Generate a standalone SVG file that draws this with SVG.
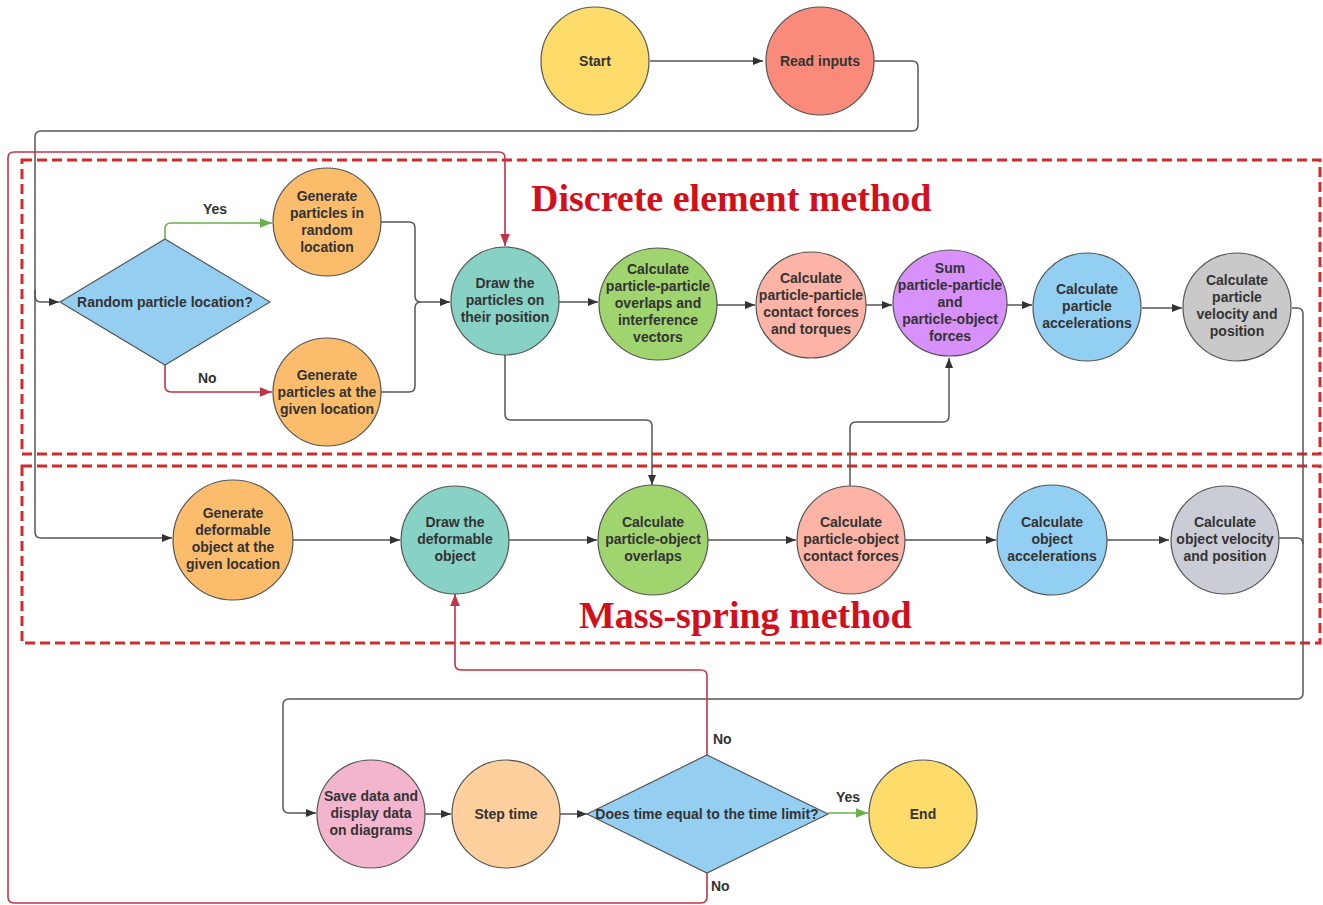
<svg xmlns="http://www.w3.org/2000/svg" width="1323" height="905" viewBox="0 0 1323 905">
<defs>
<style>
.n{stroke:#555;stroke-width:1.2}
.t{font-family:"Liberation Sans",Arial,sans-serif;font-weight:bold;font-size:14px;fill:#333;text-anchor:middle}
.lb{font-family:"Liberation Sans",Arial,sans-serif;font-weight:bold;font-size:14px;fill:#333}
.c{fill:none;stroke:#555;stroke-width:1.5}
.cr{fill:none;stroke:#c0354a;stroke-width:1.6}
.cg{fill:none;stroke:#6ab04c;stroke-width:1.6}
.box{fill:none;stroke:#d42a2a;stroke-width:3;stroke-dasharray:10 5}
.title{font-family:"Liberation Serif","Times New Roman",serif;font-weight:bold;font-size:38px;fill:#d40f1c}
</style>
<marker id="a" viewBox="0 0 10 10" refX="10" refY="5" markerWidth="10" markerHeight="10" markerUnits="userSpaceOnUse" orient="auto"><path d="M0,1 L10,5 L0,9 z" fill="#333"/></marker>
<marker id="ar" viewBox="0 0 10 10" refX="10" refY="5" markerWidth="12" markerHeight="12" markerUnits="userSpaceOnUse" orient="auto"><path d="M0,1 L10,5 L0,9 z" fill="#c0354a"/></marker>
<marker id="ag" viewBox="0 0 10 10" refX="10" refY="5" markerWidth="12" markerHeight="12" markerUnits="userSpaceOnUse" orient="auto"><path d="M0,1 L10,5 L0,9 z" fill="#6ab04c"/></marker>
</defs>
<rect width="1323" height="905" fill="#fff"/>

<g id="regions">
<rect class="box" x="22" y="160" width="1298" height="294"/>
<rect class="box" x="22" y="466" width="1298" height="177"/>
<text class="title" x="531" y="211">Discrete element method</text>
<text class="title" x="579" y="628">Mass-spring method</text>
</g>

<g id="connectors">
<path class="c" d="M650,61 H763" marker-end="url(#a)"/>
<path class="c" d="M874,61 H912 Q918,61 918,67 V125 Q918,131 912,131 H41 Q35,131 35,137 V296 Q35,302 41,302 H59" marker-end="url(#a)"/>
<path class="c" d="M35,290 V532 Q35,538 41,538 H172" marker-end="url(#a)"/>
<path class="cg" d="M165,239 V229 Q165,223 171,223 H272" marker-end="url(#ag)"/>
<path class="cr" d="M165,365 V386 Q165,392 171,392 H272" marker-end="url(#ar)"/>
<path class="c" d="M381,222 H409 Q415,222 415,228 V296 Q415,302 421,302 H450" marker-end="url(#a)"/>
<path class="c" d="M381,392 H409 Q415,392 415,386 V308 Q415,302 421,302"/>
<path class="c" d="M559,302 H598" marker-end="url(#a)"/>
<path class="c" d="M717,305 H755" marker-end="url(#a)"/>
<path class="c" d="M866,305 H892" marker-end="url(#a)"/>
<path class="c" d="M1007,305 H1032" marker-end="url(#a)"/>
<path class="c" d="M1142,308 H1182" marker-end="url(#a)"/>
<path class="c" d="M1292,308 H1297 Q1303,308 1303,314 V693 Q1303,699 1297,699 H289 Q283,699 283,705 V807 Q283,813 289,813 H316" marker-end="url(#a)"/>
<path class="c" d="M1279,538 H1297 Q1303,538 1303,544"/>
<path class="c" d="M505,355 V414 Q505,420 511,420 H646 Q652,420 652,426 V485" marker-end="url(#a)"/>
<path class="c" d="M850,486 V428 Q850,422 856,422 H943 Q949,422 949,416 V358" marker-end="url(#a)"/>
<path class="c" d="M293,540 H400" marker-end="url(#a)"/>
<path class="c" d="M509,540 H597" marker-end="url(#a)"/>
<path class="c" d="M708,540 H796" marker-end="url(#a)"/>
<path class="c" d="M905,540 H996" marker-end="url(#a)"/>
<path class="c" d="M1107,540 H1169" marker-end="url(#a)"/>
<path class="c" d="M425,814 H451" marker-end="url(#a)"/>
<path class="c" d="M560,814 H587" marker-end="url(#a)"/>
<path class="cg" d="M828,813 H868" marker-end="url(#ag)"/>
<path class="cr" d="M707,755 V676 Q707,670 701,670 H461 Q455,670 455,664 V594" marker-end="url(#ar)"/>
<path class="cr" d="M707,873 V897 Q707,903 701,903 H14 Q8,903 8,897 V158 Q8,152 14,152 H499 Q505,152 505,158 V246" marker-end="url(#ar)"/>
<text class="lb" x="203" y="214">Yes</text>
<text class="lb" x="198" y="383">No</text>
<text class="lb" x="713" y="744">No</text>
<text class="lb" x="836" y="802">Yes</text>
<text class="lb" x="711" y="891">No</text>
</g>

<g id="start"><circle class="n" cx="595" cy="61" r="54" fill="#fddc6c"/><text class="t" x="595" y="66">Start</text></g>
<g id="read-inputs"><circle class="n" cx="820" cy="61" r="54" fill="#fa8a7a"/><text class="t" x="820" y="66">Read inputs</text></g>

<g id="random-decision"><path class="n" d="M165,239 L270,302 L165,365 L60,302 Z" fill="#94cff2"/><text class="t" x="165" y="307">Random particle location?</text></g>
<g id="gen-random"><circle class="n" cx="327" cy="222" r="54" fill="#fbbc6c"/><text class="t" x="327"><tspan x="327" y="201">Generate</tspan><tspan x="327" y="218">particles in</tspan><tspan x="327" y="235">random</tspan><tspan x="327" y="252">location</tspan></text></g>
<g id="gen-given"><circle class="n" cx="327" cy="392" r="54" fill="#fbbc6c"/><text class="t" x="327"><tspan x="327" y="380">Generate</tspan><tspan x="327" y="397">particles at the</tspan><tspan x="327" y="414">given location</tspan></text></g>
<g id="draw-particles"><circle class="n" cx="505" cy="301" r="54" fill="#88d1c5"/><text class="t"><tspan x="505" y="288">Draw the</tspan><tspan x="505" y="305">particles on</tspan><tspan x="505" y="322">their position</tspan></text></g>
<g id="pp-overlaps"><ellipse class="n" cx="658" cy="304" rx="59" ry="56" fill="#a0d46f"/><text class="t"><tspan x="658" y="274">Calculate</tspan><tspan x="658" y="291">particle-particle</tspan><tspan x="658" y="308">overlaps and</tspan><tspan x="658" y="325">interference</tspan><tspan x="658" y="342">vectors</tspan></text></g>
<g id="pp-forces"><ellipse class="n" cx="811" cy="305" rx="55" ry="53" fill="#fdb4a6"/><text class="t"><tspan x="811" y="283">Calculate</tspan><tspan x="811" y="300">particle-particle</tspan><tspan x="811" y="317">contact forces</tspan><tspan x="811" y="334">and torques</tspan></text></g>
<g id="sum-forces"><ellipse class="n" cx="950" cy="303" rx="57" ry="53" fill="#d890fb"/><text class="t"><tspan x="950" y="273">Sum</tspan><tspan x="950" y="290">particle-particle</tspan><tspan x="950" y="307">and</tspan><tspan x="950" y="324">particle-object</tspan><tspan x="950" y="341">forces</tspan></text></g>
<g id="particle-acc"><circle class="n" cx="1087" cy="307" r="54" fill="#93cff2"/><text class="t"><tspan x="1087" y="294">Calculate</tspan><tspan x="1087" y="311">particle</tspan><tspan x="1087" y="328">accelerations</tspan></text></g>
<g id="particle-vel"><circle class="n" cx="1237" cy="307" r="54" fill="#c9c9c9"/><text class="t"><tspan x="1237" y="285">Calculate</tspan><tspan x="1237" y="302">particle</tspan><tspan x="1237" y="319">velocity and</tspan><tspan x="1237" y="336">position</tspan></text></g>

<g id="gen-deformable"><circle class="n" cx="233" cy="540" r="60" fill="#fbbc6c"/><text class="t"><tspan x="233" y="518">Generate</tspan><tspan x="233" y="535">deformable</tspan><tspan x="233" y="552">object at the</tspan><tspan x="233" y="569">given location</tspan></text></g>
<g id="draw-object"><circle class="n" cx="455" cy="540" r="54" fill="#88d1c5"/><text class="t"><tspan x="455" y="527">Draw the</tspan><tspan x="455" y="544">deformable</tspan><tspan x="455" y="561">object</tspan></text></g>
<g id="po-overlaps"><circle class="n" cx="653" cy="540" r="55" fill="#a0d46f"/><text class="t"><tspan x="653" y="527">Calculate</tspan><tspan x="653" y="544">particle-object</tspan><tspan x="653" y="561">overlaps</tspan></text></g>
<g id="po-forces"><circle class="n" cx="851" cy="540" r="54" fill="#fdb4a6"/><text class="t"><tspan x="851" y="527">Calculate</tspan><tspan x="851" y="544">particle-object</tspan><tspan x="851" y="561">contact forces</tspan></text></g>
<g id="object-acc"><circle class="n" cx="1052" cy="540" r="55" fill="#93cff2"/><text class="t"><tspan x="1052" y="527">Calculate</tspan><tspan x="1052" y="544">object</tspan><tspan x="1052" y="561">accelerations</tspan></text></g>
<g id="object-vel"><circle class="n" cx="1225" cy="540" r="54" fill="#cacdd6"/><text class="t"><tspan x="1225" y="527">Calculate</tspan><tspan x="1225" y="544">object velocity</tspan><tspan x="1225" y="561">and position</tspan></text></g>

<g id="save-data"><circle class="n" cx="371" cy="814" r="54" fill="#f3b5ce"/><text class="t"><tspan x="371" y="801">Save data and</tspan><tspan x="371" y="818">display data</tspan><tspan x="371" y="835">on diagrams</tspan></text></g>
<g id="step-time"><circle class="n" cx="506" cy="814" r="54" fill="#fed09e"/><text class="t" x="506" y="819">Step time</text></g>
<g id="time-decision"><path class="n" d="M707,755 L828,814 L707,873 L587,814 Z" fill="#94cff2"/><text class="t" x="707" y="819">Does time equal to the time limit?</text></g>
<g id="end"><circle class="n" cx="923" cy="814" r="54" fill="#fddc6c"/><text class="t" x="923" y="819">End</text></g>
</svg>
